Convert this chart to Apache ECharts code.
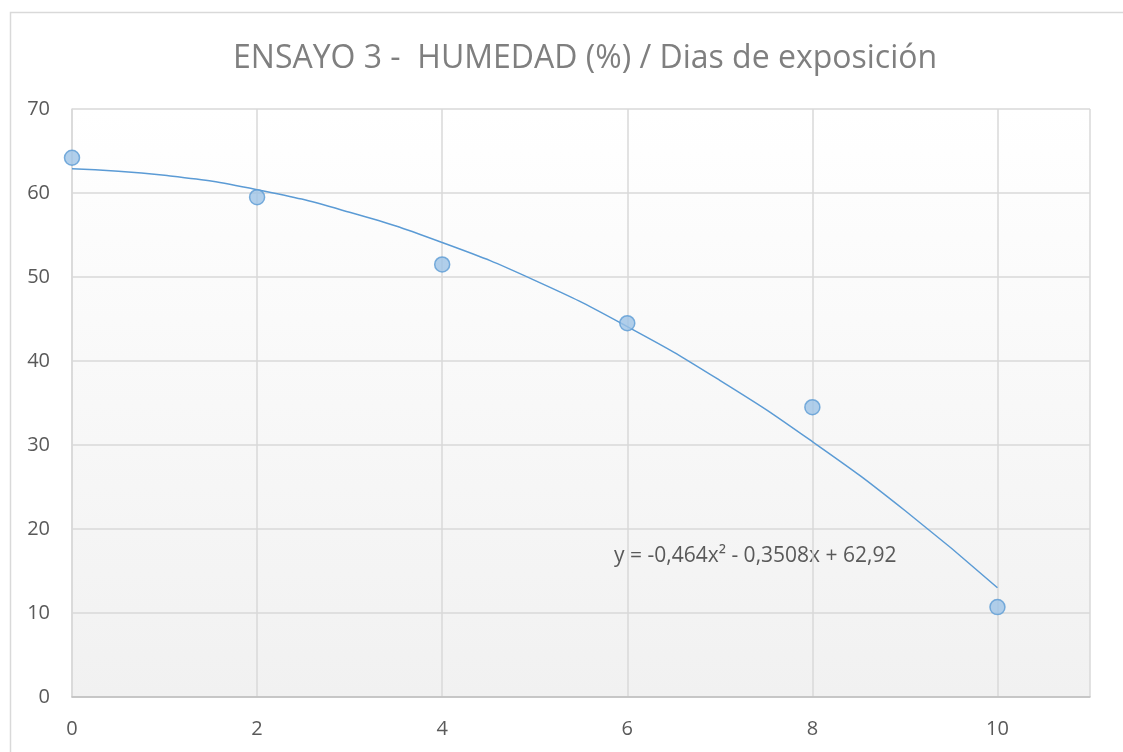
<!DOCTYPE html>
<html>
<head>
    <meta charset="utf-8" />
    <title>ENSAYO 3</title>
    <script src="https://cdn.jsdelivr.net/npm/echarts@6/dist/echarts.min.js"></script>
    <style>
        html, body { margin: 0; padding: 0; background: #fff; }
    </style>
</head>
<body>
    <div id="main" style="width: 1123px;height:752px;"></div>
    <script type="text/javascript">
        // días de exposición y humedad medida
        var dias = [0, 2, 4, 6, 8, 10];
        var humedad = [64.2, 59.5, 51.5, 44.5, 34.5, 10.7];
        // línea de tendencia
        var tendX = [0, 1, 2, 3, 4, 5, 6, 7, 8, 9, 10];
        var tendY = [62.9, 62.1, 60.4, 57.7, 54.1, 49.6, 44.1, 37.7, 30.4, 22.2, 13.0];
        var ecuacion = 'y = -0,464x² - 0,3508x + 62,92';

        var myChart = echarts.init(document.getElementById('main'));
        var font = 'Open Sans, Noto Sans, sans-serif';

        var option = {
            animation: false,
            title: {
                text: 'ENSAYO 3 -  HUMEDAD (%) / Dias de exposición',
                left: 228,
                top: 38,
                textStyle: { fontFamily: font, fontSize: 32, fontWeight: 'normal', color: '#7f7f7f' }
            },
            graphic: [
                {
                    type: 'rect',
                    left: 8, top: 10,
                    shape: { width: 1140, height: 770 },
                    style: { fill: 'none', stroke: '#d9d9d9', lineWidth: 1.5 },
                    silent: true
                },
                {
                    type: 'text',
                    left: 614, top: 546,
                    style: { text: ecuacion, font: '21px ' + font, fill: '#595959' }
                }
            ],
            grid: {
                left: 72, right: 33, top: 109, bottom: 55,
                show: true,
                borderWidth: 0,
                backgroundColor: new echarts.graphic.LinearGradient(0, 0, 0, 1, [
                    { offset: 0, color: '#ffffff' },
                    { offset: 1, color: '#f1f1f1' }
                ])
            },
            xAxis: {
                type: 'value',
                min: 0, max: 11, interval: 2,
                axisLine: { show: true, lineStyle: { color: '#bfbfbf', width: 1.5 } },
                axisTick: { show: false },
                splitLine: { show: true, lineStyle: { color: '#d9d9d9', width: 1.5 } },
                axisLabel: {
                    margin: 22, fontFamily: font, fontSize: 20, color: '#595959',
                    showMaxLabel: false
                }
            },
            yAxis: {
                type: 'value',
                min: 0, max: 70, interval: 10,
                axisLine: { show: true, lineStyle: { color: '#d9d9d9', width: 1.5 } },
                axisTick: { show: false },
                splitLine: { show: true, lineStyle: { color: '#d9d9d9', width: 1.5 } },
                axisLabel: { margin: 22, fontFamily: font, fontSize: 20, color: '#595959' }
            },
            series: [
                {
                    type: 'line',
                    data: tendX.map(function (x, i) { return [x, tendY[i]]; }),
                    smooth: true,
                    showSymbol: false,
                    lineStyle: { color: '#5b9bd5', width: 1.5 },
                    z: 2
                },
                {
                    type: 'scatter',
                    data: dias.map(function (x, i) { return [x, humedad[i]]; }),
                    symbolSize: 15,
                    itemStyle: { color: '#9dc3e6', borderColor: '#5b9bd5', borderWidth: 1.5 },
                    z: 3
                }
            ]
        };

        myChart.setOption(option);
    </script>
</body>
</html>
